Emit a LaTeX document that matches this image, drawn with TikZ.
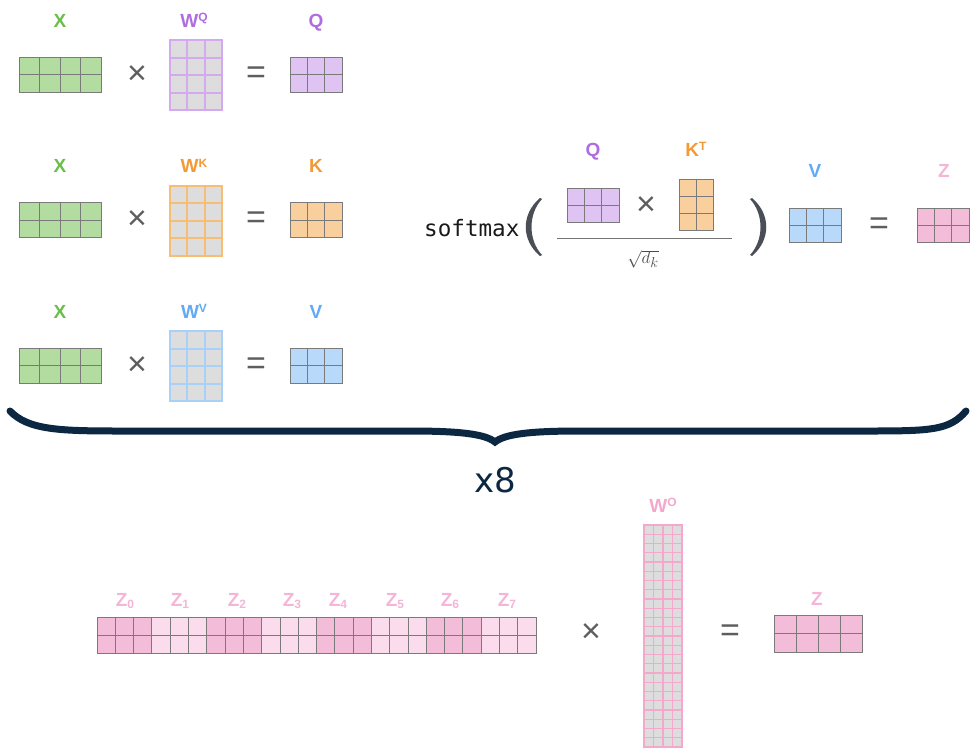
\documentclass[tikz,border=0pt]{standalone}
\usepackage{fontspec}
\setmainfont{Liberation Sans}
\newfontfamily\monofont{DejaVu Sans Mono}
\newfontfamily\dejavu{DejaVu Sans}
\definecolor{xgreen}{HTML}{6ABF4B}
\definecolor{xfill}{HTML}{B3DDA0}
\definecolor{qpurple}{HTML}{B06DE0}
\definecolor{qfill}{HTML}{DFC3F2}
\definecolor{qline}{HTML}{D7A8F2}
\definecolor{korange}{HTML}{F39A36}
\definecolor{kfill}{HTML}{F9CF9D}
\definecolor{kline}{HTML}{F8BD75}
\definecolor{vblue}{HTML}{62AAF5}
\definecolor{vfill}{HTML}{B8D9FA}
\definecolor{vline}{HTML}{A8D0F8}
\definecolor{zpink}{HTML}{F5B5D7}
\definecolor{zfill}{HTML}{F3BCD9}
\definecolor{zlight}{HTML}{FADCEC}
\definecolor{wopink}{HTML}{F3A8CC}
\definecolor{wgrey}{HTML}{DDDDDE}
\definecolor{cellline}{HTML}{7A7A7A}
\definecolor{opgrey}{HTML}{5E5E5E}
\definecolor{paren}{HTML}{4A4F57}
\definecolor{navy}{HTML}{0C2742}
\tikzset{
  gridgrey/.style={draw=cellline, line width=0.8pt},
  gridq/.style={draw=qline, line width=2pt},
  gridk/.style={draw=kline, line width=2pt},
  gridv/.style={draw=vline, line width=2pt},
  gridwo/.style={draw=wopink, line width=1.3pt},
  lab/.style={font=\fontsize{19}{19}\selectfont\bfseries, inner sep=0, anchor=base},
  op/.style={font=\fontsize{34}{34}\selectfont, text=opgrey, inner sep=0},
}
\newcommand\supl[1]{\raisebox{5.5pt}{\fontsize{12}{12}\selectfont #1}}
\newcommand\subl[1]{\raisebox{-2pt}{\fontsize{12}{12}\selectfont #1}}
% #1 name, #2 x0, #3 y0, #4 cols, #5 rows, #6 cell w, #7 cell h, #8 fill, #9 line style
\newcommand\gridmat[9]{%
  \pgfmathsetmacro\gmw{#4*#6}\pgfmathsetmacro\gmh{#5*#7}%
  \node[#9, fill=#8, inner sep=0, outer sep=0, minimum width=\gmw pt, minimum height=\gmh pt, anchor=north west] (#1) at (#2,#3) {};
  \pgfmathtruncatemacro\gmc{#4-1}\pgfmathtruncatemacro\gmr{#5-1}%
  \foreach \gmi in {1,...,\gmc}{\draw[#9] (#2+\gmi*#6,#3) -- ++(0,\gmh);}
  \foreach \gmj in {1,...,\gmr}{\draw[#9] (#2,#3+\gmj*#7) -- ++(\gmw,0);}
}
\begin{document}
\begin{tikzpicture}[x=1pt,y=-1pt]
\useasboundingbox (0,0) rectangle (973,747);
\fill[white] (0,0) rectangle (973,747);
% three projection rows
\foreach \r/\nm/\fl/\gl/\lc/\sp in {0/q/qfill/gridq/qpurple/Q, 1/k/kfill/gridk/korange/K, 2/v/vfill/gridv/vblue/V}{
  \pgfmathsetmacro\dy{\r*145.5}
  \gridmat{x\nm}{19}{57+\dy}{4}{2}{20.5}{17.5}{xfill}{gridgrey}
  \gridmat{w\nm}{170}{40+\dy}{3}{4}{17.33}{17.5}{wgrey}{\gl}
  \gridmat{r\nm}{290}{57+\dy}{3}{2}{17.33}{17.5}{\fl}{gridgrey}
  \node[lab, text=xgreen] (lx\nm) at (60,27+\dy) {X};
  \node[lab, text=\lc] (lw\nm) at (194,27+\dy) {W\supl{\sp}};
  \node[lab, text=\lc] (lr\nm) at (316,27+\dy) {\sp};
  \node[op] (t\nm) at (137,75+\dy) {×};
  \node[op] (e\nm) at (256,75+\dy) {=};
}
% softmax part
\node[inner sep=0, anchor=base west, font=\monofont\fontsize{22.6}{22.6}\selectfont, text=black!90] (sm) at (424,236) {softmax};
\fill[paren] (540,198) .. controls (521,214) and (521,240) .. (540,256) -- (542,255) .. controls (528,240) and (528,214) .. (542,199) -- cycle;
\fill[paren] (752,198) .. controls (771,214) and (771,240) .. (752,256) -- (750,255) .. controls (764,240) and (764,214) .. (750,199) -- cycle;
\gridmat{sq}{567}{188}{3}{2}{17.33}{17}{qfill}{gridgrey}
\gridmat{sk}{679}{179}{2}{3}{17}{17}{kfill}{gridgrey}
\gridmat{sv}{789}{208}{3}{2}{17.33}{17}{vfill}{gridgrey}
\gridmat{sz}{917}{208}{3}{2}{17.33}{17}{zfill}{gridgrey}
\node[lab, text=qpurple] (lsq) at (593,156) {Q};
\node[lab, text=korange] (lsk) at (696,156) {K\supl{T}};
\node[lab, text=vblue] (lsv) at (815,177) {V};
\node[lab, text=zpink] (lsz) at (944,177) {Z};
\node[op] (tsm) at (646,206) {×};
\node[op] (esm) at (879,226) {=};
\coordinate (fl) at (557,238);
\coordinate (fr) at (732,238);
\draw[black!55, line width=0.8pt] (fl) -- (fr);
\node[inner sep=0, text=black!70, font=\fontsize{19}{19}\selectfont] (dk) at (643,259) {$\sqrt{d_k}$};
% brace
\draw[navy, line width=7pt, line cap=round, line join=miter] (10,411) .. controls (28,430) and (60,431) .. (120,431) -- (410,431) .. controls (460,431) and (485,434) .. (495,442) .. controls (505,434) and (530,431) .. (580,431) -- (870,431) .. controls (932,431) and (950,430) .. (966,411);
\node[inner sep=0, text=navy, font=\dejavu\fontsize{34}{34}\selectfont] (x8) at (495,480) {x8};
% bottom: concatenated Z
\foreach \i in {0,2,4,6}{\gridmat{zb\i}{97+\i*54.875}{617}{3}{2}{18.29}{18}{zfill}{gridgrey}}
\foreach \i in {1,3,5,7}{\gridmat{zb\i}{97+\i*54.875}{617}{3}{2}{18.29}{18}{zlight}{gridgrey}}
\foreach \i/\cx in {0/125,1/180,2/237,3/292,4/338,5/395,6/450,7/507}{
  \node[lab, text=zpink] (lz\i) at (\cx,606) {Z\subl{\i}};
}
\node[op] (tb) at (591,633) {×};
\gridmat{wo}{644}{525}{4}{24}{9.5}{9.25}{wgrey}{gridwo}
\node[lab, text=wopink] (lwo) at (663,512) {W\supl{O}};
\node[op] (eb) at (730,633) {=};
\gridmat{zo}{774}{615}{4}{2}{22}{18.5}{zfill}{gridgrey}
\node[lab, text=zpink] (lzo) at (817,605) {Z};
\end{tikzpicture}
\end{document}
